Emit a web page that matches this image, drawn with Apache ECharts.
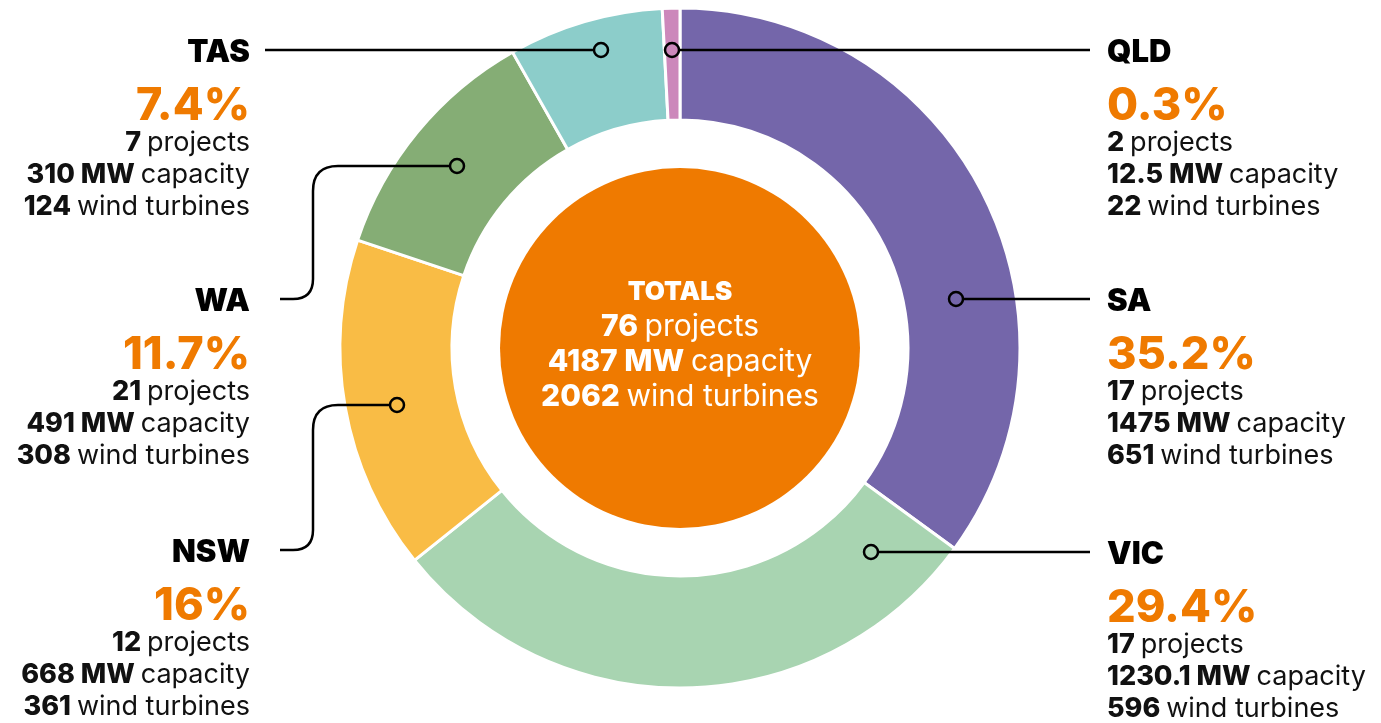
<!DOCTYPE html>
<html>
<head>
<meta charset="utf-8">
<script src="https://cdn.jsdelivr.net/npm/echarts@6/dist/echarts.min.js"></script>
<style>
  html, body { margin: 0; padding: 0; background: #ffffff; }
  #chart { width: 1381px; height: 723px; }
</style>
</head>
<body>
<div id="chart"></div>
<script>
// Wind farm projects by state
const states = ['SA', 'VIC', 'NSW', 'WA', 'TAS', 'QLD'];
const capacityMW = [1475, 1230.1, 668, 491, 310, 12.5];
const shareLabels = ['35.2%', '29.4%', '16%', '11.7%', '7.4%', '0.3%'];
const projects = [17, 17, 12, 21, 7, 2];
const turbines = [651, 596, 361, 308, 124, 22];

const palette = ['#7466aa', '#a8d4b1', '#f9bc45', '#85ad75', '#8ccdca', '#cc88bb'];
const ORANGE = '#ef7a00';
const FONT = 'Inter, "Noto Sans", sans-serif';

const totalProjects = projects.reduce((a, b) => a + b, 0);
const totalMW = Math.round(capacityMW.reduce((a, b) => a + b, 0));
const totalTurbines = turbines.reduce((a, b) => a + b, 0);

// Callout layout: text block anchor, marker dot and leader line.
// Leader lines: straight runs, or a jog down to the text with rounded corners.
const callouts = {
  SA:  { side: 'right', y: 299, dot: [956, 299], endX: 1090 },
  VIC: { side: 'right', y: 552, dot: [871, 552], endX: 1090 },
  NSW: { side: 'left',  y: 550, dot: [397, 405], endX: 280, jogX: 313 },
  WA:  { side: 'left',  y: 299, dot: [457, 166], endX: 280, jogX: 313 },
  TAS: { side: 'left',  y: 50,  dot: [601, 50],  endX: 265 },
  QLD: { side: 'right', y: 50,  dot: [672, 50],  endX: 1090 }
};

const LINE_STYLE = { stroke: '#000', lineWidth: 2.5, fill: null };

function leaderLine(c) {
  const [dx, dy] = c.dot;
  if (c.jogX === undefined) {
    return [{ type: 'line', silent: true, z: 10,
      shape: { x1: dx, y1: dy, x2: c.endX, y2: dy }, style: LINE_STYLE }];
  }
  const jx = c.jogX, ty = c.y, r1 = 25, r2 = 20;
  return [
    { type: 'line', silent: true, z: 10, shape: { x1: dx, y1: dy, x2: jx + r1, y2: dy }, style: LINE_STYLE },
    { type: 'bezierCurve', silent: true, z: 10,
      shape: { x1: jx + r1, y1: dy, cpx1: jx, cpy1: dy, x2: jx, y2: dy + r1 }, style: LINE_STYLE },
    { type: 'line', silent: true, z: 10, shape: { x1: jx, y1: dy + r1, x2: jx, y2: ty - r2 }, style: LINE_STYLE },
    { type: 'bezierCurve', silent: true, z: 10,
      shape: { x1: jx, y1: ty - r2, cpx1: jx, cpy1: ty, x2: jx - r2, y2: ty }, style: LINE_STYLE },
    { type: 'line', silent: true, z: 10, shape: { x1: jx - r2, y1: ty, x2: c.endX, y2: ty }, style: LINE_STYLE }
  ];
}

const rich = {
  b: { fontFamily: FONT, fontWeight: 800, fontSize: 27, fill: '#111', color: '#111' },
  r: { fontFamily: FONT, fontWeight: 400, fontSize: 27, fill: '#111', color: '#111' }
};

const graphics = [];
states.forEach((s, i) => {
  const c = callouts[s];
  const x = c.side === 'left' ? 250 : 1107;
  const align = c.side === 'left' ? 'right' : 'left';
  leaderLine(c).forEach(g => graphics.push(g));
  graphics.push({
    type: 'circle', silent: true, z: 11,
    shape: { cx: c.dot[0], cy: c.dot[1], r: 7 },
    style: { stroke: '#000', lineWidth: 2.5, fill: palette[i] }
  });
  graphics.push({
    type: 'text', silent: true, z: 10,
    style: { x: x, y: c.y + 3, text: s, align: align, verticalAlign: 'middle',
             font: '900 31px ' + FONT, fill: '#000' }
  });
  graphics.push({
    type: 'text', silent: true, z: 10,
    style: { x: x, y: c.y + 56, text: shareLabels[i], align: align, verticalAlign: 'middle',
             font: '800 45px ' + FONT, fill: ORANGE }
  });
  const lines = [
    '{b|' + projects[i] + '\u00a0}{r|projects}',
    '{b|' + capacityMW[i] + ' MW\u00a0}{r|capacity}',
    '{b|' + turbines[i] + '\u00a0}{r|wind turbines}'
  ];
  lines.forEach((t, k) => {
    graphics.push({
      type: 'text', silent: true, z: 10,
      style: { x: x, y: c.y + 93 + k * 32, text: t, align: align, verticalAlign: 'middle', rich: rich }
    });
  });
});

const chart = echarts.init(document.getElementById('chart'), null, { renderer: 'canvas' });
chart.setOption({
  animation: false,
  backgroundColor: '#ffffff',
  series: [
    {
      type: 'pie',
      center: [680, 348],
      radius: [228, 340],
      startAngle: 90,
      clockwise: true,
      minAngle: 3,
      avoidLabelOverlap: false,
      silent: true,
      label: { show: false },
      labelLine: { show: false },
      itemStyle: { borderColor: '#ffffff', borderWidth: 3 },
      data: states.map((s, i) => ({ name: s, value: capacityMW[i], itemStyle: { color: palette[i] } }))
    },
    {
      type: 'pie',
      center: [680, 348],
      radius: [0, 180],
      silent: true,
      labelLine: { show: false },
      itemStyle: { color: ORANGE },
      label: {
        show: true,
        position: 'center',
        offset: [0, -3],
        formatter: '{t|TOTALS}\n{b|' + totalProjects + '\u00a0}{r|projects}\n{b|' + totalMW + ' MW\u00a0}{r|capacity}\n{b|' + totalTurbines + '\u00a0}{r|wind turbines}',
        rich: {
          t: { fontFamily: FONT, fontWeight: 900, fontSize: 26, color: '#fff', lineHeight: 34 },
          b: { fontFamily: FONT, fontWeight: 800, fontSize: 30, color: '#fff', lineHeight: 35 },
          r: { fontFamily: FONT, fontWeight: 400, fontSize: 30, color: '#fff', lineHeight: 35 }
        }
      },
      data: [{ name: 'TOTALS', value: 1 }]
    }
  ],
  graphic: graphics
});
</script>
</body>
</html>
